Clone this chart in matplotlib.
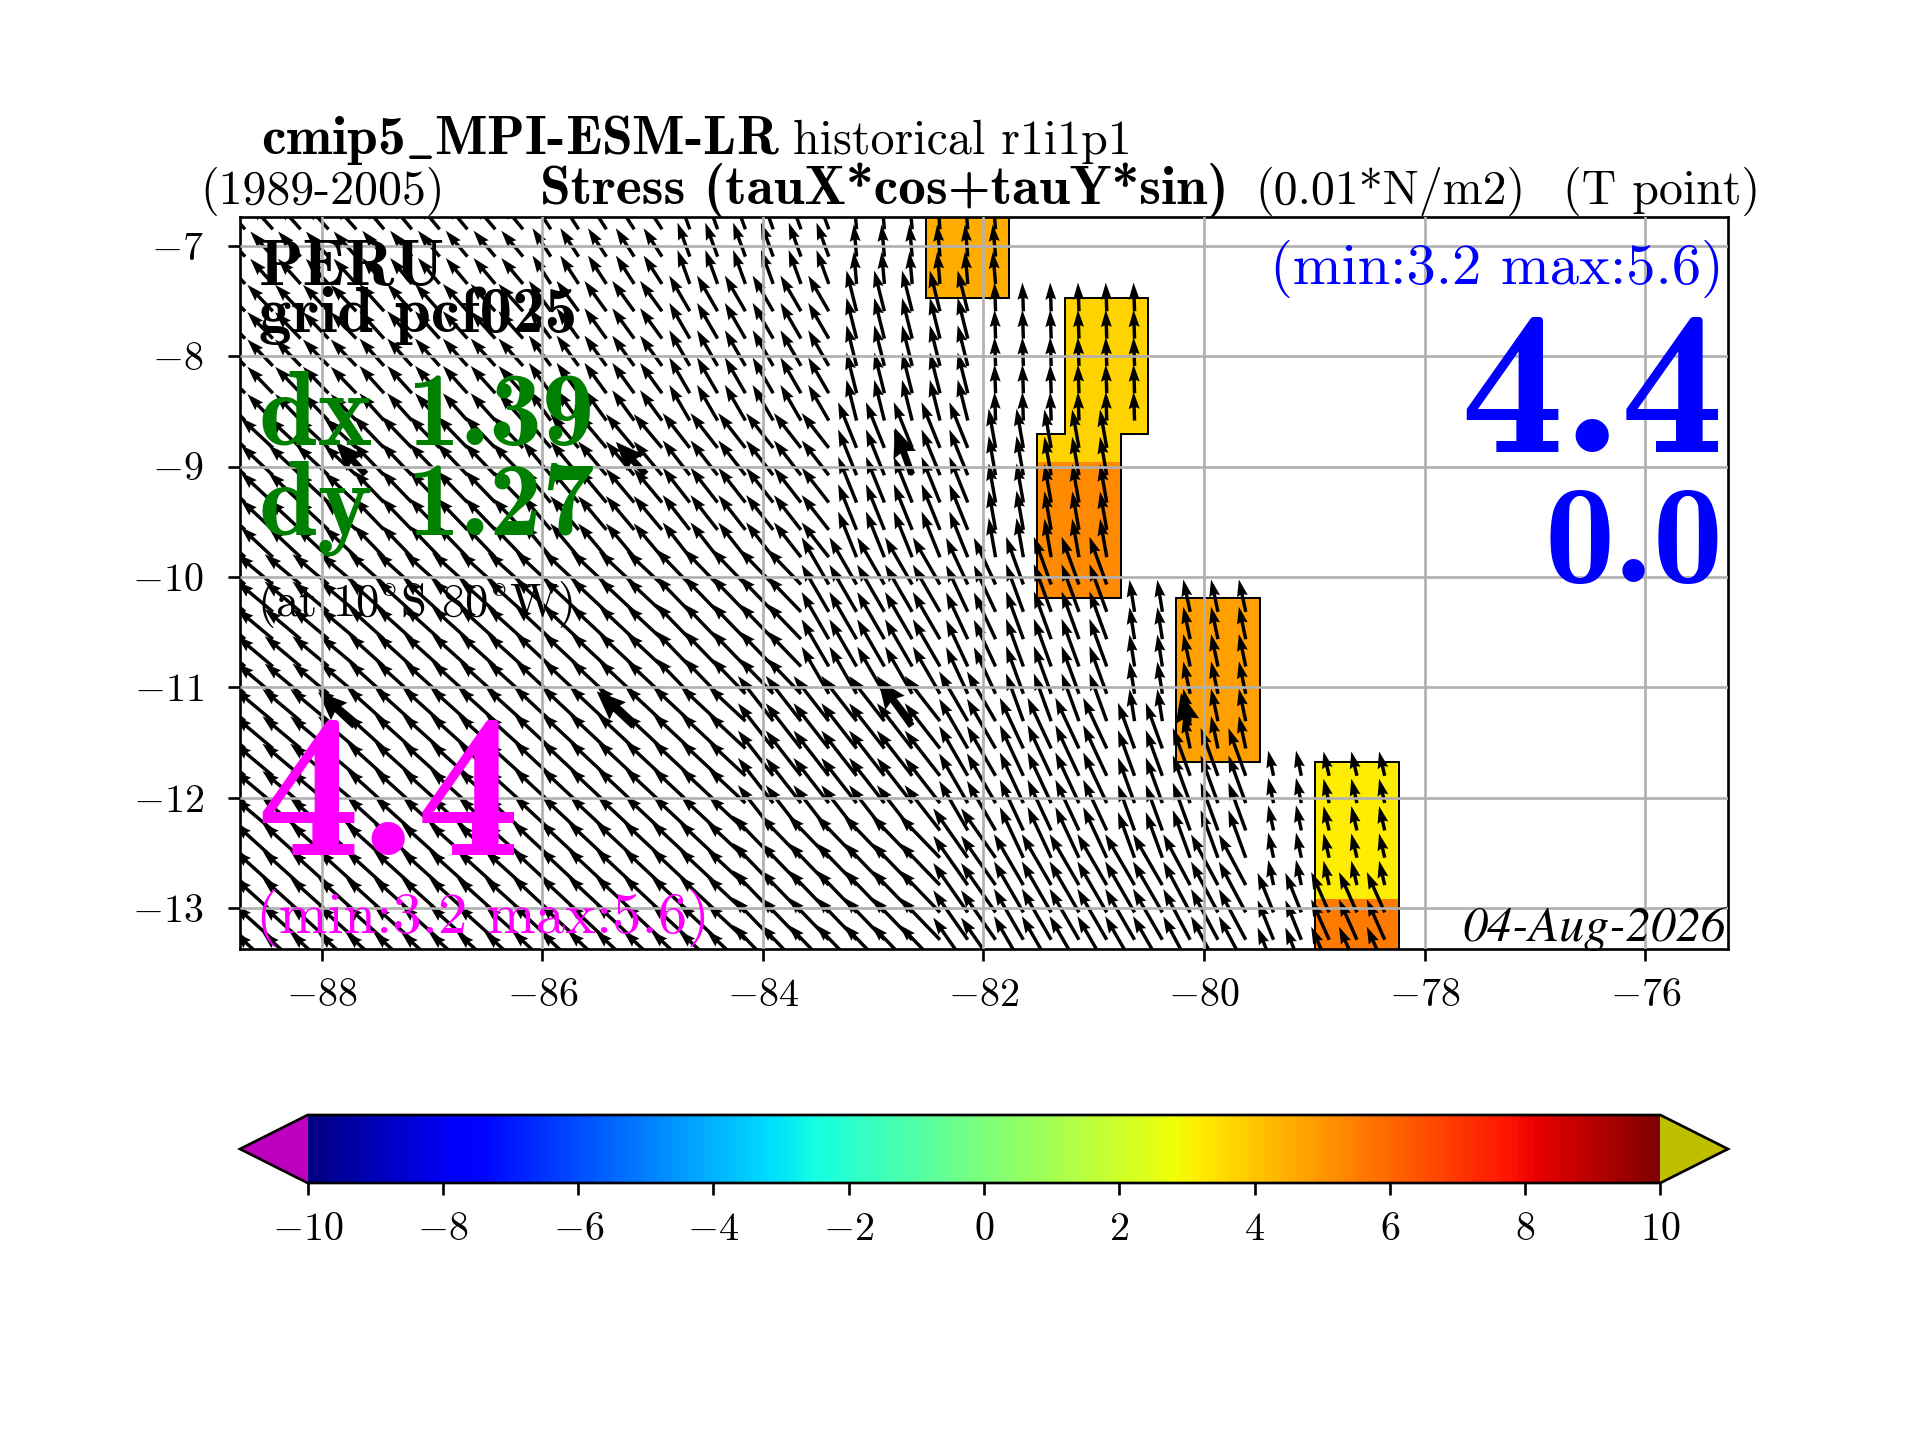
import numpy as np
import matplotlib
matplotlib.use("Agg")
import matplotlib.pyplot as plt
from matplotlib.collections import LineCollection
from matplotlib.cm import ScalarMappable
from matplotlib.colors import Normalize

plt.rcParams['font.family'] = ['cmr10', 'DejaVu Serif']
plt.rcParams['mathtext.fontset'] = 'cm'
plt.rcParams['axes.formatter.use_mathtext'] = True
plt.rcParams['font.size'] = 12

# model grid, index k along lon and j along lat
lon_first_edge = -82.52
lon_step = 0.252
lat_first_edge = -7.47
lat_step = -0.2475
k_range = (-25, 17)
j_range = (-3, 25)

# wind stress vectors, constant over each coarse model cell
vec_k0 = [-25, -20, -14, -9, -3,
          -25, -20, -14, -9, -3, 2,
          -25, -20, -14, -9, -3, 2, 4,
          -25, -20, -14, -9, -4, 1, 3, 7, 9,
          -25, -20, -14, -6, 1, 3, 7, 9, 12, 14,
          -25, -14, -6, 1, 3, 7, 9, 12, 14]
vec_k1 = [-20, -14, -9, -3, 3,
          -20, -14, -9, -3, 2, 8,
          -20, -14, -9, -3, 2, 4, 7,
          -20, -14, -9, -4, 1, 3, 7, 9, 12,
          -20, -14, -6, 1, 3, 7, 9, 12, 14, 17,
          -14, -6, 1, 3, 7, 9, 12, 14, 17]
vec_j0 = [-3, -3, -3, -3, -3,
          0, 0, 0, 0, 0, 0,
          5, 5, 5, 5, 5, 5, 5,
          10, 10, 10, 10, 10, 10, 10, 11, 11,
          15, 15, 15, 15, 15, 16, 16, 17, 17, 17,
          20, 20, 20, 20, 21, 21, 21, 22, 22]
vec_j1 = [0, 0, 0, 0, 0,
          5, 5, 5, 5, 5, 5,
          10, 10, 10, 10, 10, 10, 11,
          15, 15, 15, 15, 15, 15, 16, 16, 17,
          20, 20, 20, 20, 20, 21, 21, 21, 22, 22,
          25, 25, 25, 25, 25, 25, 25, 25, 25]
vec_angle = [42, 40, 33, 20, 5,
             44, 42, 36, 30, 14, 2,
             47, 44, 40, 38, 22, 10, 10,
             50, 48, 47, 44, 30, 25, 20, 9, 12,
             50, 48, 47, 38, 30, 25, 20, 20, 12, 13,
             48, 47, 44, 35, 30, 30, 28, 22, 24]
vec_stress = [4.6, 4.6, 4.6, 4.9, 4.4,
              5.0, 5.0, 5.1, 5.6, 5.7, 3.9,
              6.0, 6.0, 6.0, 6.0, 6.7, 5.4, 5.3,
              6.4, 6.5, 6.6, 6.7, 7.4, 7.0, 6.9, 4.4, 4.5,
              6.8, 6.8, 6.9, 7.8, 7.8, 7.6, 6.6, 6.9, 3.5, 3.4,
              7.0, 7.2, 8.0, 8.2, 8.0, 8.0, 7.8, 5.8, 6.0]

# the few heavier arrows
big_lon = [-87.6, -85.06, -82.65, -87.7, -85.17, -82.65, -80.14]
big_lat = [-9.07, -9.07, -9.07, -11.35, -11.35, -11.35, -11.35]
big_angle = [43, 43, 20, 47, 47, 36, 13]
big_stress = [6.0, 6.0, 6.7, 6.8, 6.9, 7.8, 4.6]

# coloured cells along the coast
shade_k0 = [0, 5, 4, 4, 9, 14, 14]
shade_k1 = [3, 8, 7, 7, 12, 17, 17]
shade_j0 = [-3, 0, 5, 6, 11, 17, 22]
shade_j1 = [0, 5, 6, 11, 17, 22, 25]
shade_value = [4.5, 3.7, 3.7, 5.3, 4.8, 3.2, 5.6]

x_ticks = [-88, -86, -84, -82, -80, -78, -76]
y_ticks = [-7, -8, -9, -10, -11, -12, -13]
cbar_ticks = [-10, -8, -6, -4, -2, 0, 2, 4, 6, 8, 10]


def fx(x):
    return x / 1920.0


def fy(y):
    return 1 - y / 1440.0


def label(x, y, s, **kw):
    fig.text(fx(x), fy(y), s, va='baseline', zorder=10, **kw)


k_all = np.arange(k_range[0], k_range[1])
j_all = np.arange(j_range[0], j_range[1])
lon_edges = lon_first_edge + lon_step * np.arange(k_range[0], k_range[1] + 1)
lat_edges = lat_first_edge + lat_step * np.arange(j_range[0], j_range[1] + 1)
lon_c = 0.5 * (lon_edges[:-1] + lon_edges[1:])
lat_c = 0.5 * (lat_edges[:-1] + lat_edges[1:])

angle = np.full((len(j_all), len(k_all)), np.nan)
stress = np.full((len(j_all), len(k_all)), np.nan)
for i in range(len(vec_angle)):
    sel_j = slice(vec_j0[i] - j_range[0], vec_j1[i] - j_range[0])
    sel_k = slice(vec_k0[i] - k_range[0], vec_k1[i] - k_range[0])
    angle[sel_j, sel_k] = vec_angle[i]
    stress[sel_j, sel_k] = vec_stress[i]

shade = np.full((len(j_all), len(k_all)), np.nan)
for i in range(len(shade_value)):
    shade[shade_j0[i] - j_range[0]:shade_j1[i] - j_range[0],
          shade_k0[i] - k_range[0]:shade_k1[i] - k_range[0]] = shade_value[i]

u = -stress * np.sin(np.deg2rad(angle))
v = stress * np.cos(np.deg2rad(angle))
lon2d, lat2d = np.meshgrid(lon_c, lat_c)
ok = ~np.isnan(u)

fig = plt.figure(figsize=(8, 6), dpi=240)
ax = fig.add_axes([fx(240), fy(949), fx(1728) - fx(240), fy(217) - fy(949)])

cmap = plt.get_cmap('jet').copy()
cmap.set_under((0.75, 0, 0.75))
cmap.set_over((0.75, 0.75, 0))
norm = Normalize(-10, 10)

ax.pcolormesh(lon_edges, lat_edges, np.ma.masked_invalid(shade), cmap=cmap, norm=norm, zorder=1)

# coast outline around the coloured cells
has = np.pad(~np.isnan(shade), 1)
segs = []
for jj in range(shade.shape[0]):
    for kk in range(shade.shape[1]):
        if not has[jj + 1, kk + 1]:
            continue
        if not has[jj, kk + 1]:
            segs.append([(lon_edges[kk], lat_edges[jj]), (lon_edges[kk + 1], lat_edges[jj])])
        if not has[jj + 2, kk + 1]:
            segs.append([(lon_edges[kk], lat_edges[jj + 1]), (lon_edges[kk + 1], lat_edges[jj + 1])])
        if not has[jj + 1, kk]:
            segs.append([(lon_edges[kk], lat_edges[jj]), (lon_edges[kk], lat_edges[jj + 1])])
        if not has[jj + 1, kk + 2]:
            segs.append([(lon_edges[kk + 1], lat_edges[jj]), (lon_edges[kk + 1], lat_edges[jj + 1])])
ax.add_collection(LineCollection(segs, colors='k', linewidths=0.6, zorder=1.5, capstyle='round'))

ax.quiver(lon2d[ok], lat2d[ok], u[ok], v[ok], angles='xy', scale_units='xy', scale=15.0,
          width=0.0023, headwidth=3.2, headlength=5, headaxislength=4.5, color='k', zorder=2)
big_u = -np.array(big_stress) * np.sin(np.deg2rad(big_angle))
big_v = np.array(big_stress) * np.cos(np.deg2rad(big_angle))
ax.quiver(big_lon, big_lat, big_u, big_v, angles='xy', scale_units='xy', scale=15.0,
          width=0.0046, headwidth=3.5, headlength=4.2, headaxislength=3.8, color='k', zorder=2)

ax.set_xlim(-88.74, -75.25)
ax.set_ylim(-13.37, -6.74)
ax.set_xticks(x_ticks)
ax.set_yticks(y_ticks)
ax.tick_params(axis='x', pad=5.3)
ax.tick_params(axis='y', pad=7.4)
ax.grid(True, color='#b0b0b0', linewidth=0.8, zorder=3)
ax.set_axisbelow(False)

# colorbar, its axes includes the two end triangles
cax = fig.add_axes([fx(240), fy(1183), fx(1728) - fx(240), fy(1115) - fy(1183)])
sm = ScalarMappable(norm=norm, cmap=cmap)
cbar = fig.colorbar(sm, cax=cax, orientation='horizontal', extend='both', ticks=cbar_ticks)
cax.tick_params(pad=5.3)

# titles
bold = 'cmb10'
label(261, 154, r'cmip5$\_$MPI-ESM-LR', fontsize=16.6, family=bold)
label(793, 154, 'historical r1i1p1', fontsize=14.4)
label(200, 204, '(1989-2005)', fontsize=14.4)
label(540, 204, 'Stress (tauX*cos+tauY*sin)', fontsize=16.6, family=bold)
label(1255, 204, '(0.01*N/m2)', fontsize=14.4)
label(1760, 204, '(T point)', fontsize=14.4, ha='right')

# text inside the map
label(259, 285, 'PERU', fontsize=19.5, family=bold)
label(259, 332, 'grid pcf025', fontsize=19.5, family=bold)
label(259, 445, 'dx 1.39', fontsize=31.5, family=bold, color='green')
label(259, 534, 'dy 1.27', fontsize=31.5, family=bold, color='green')
label(257, 616, r'(at 10$^{\circ}$S 80$^{\circ}$W)', fontsize=14)
label(256, 855, '4.4', fontsize=62, family=bold, color='magenta')
label(256, 933, '(min:3.2 max:5.6)', fontsize=17.6, color='magenta')
label(1724, 284, '(min:3.2 max:5.6)', fontsize=17.6, color='blue', ha='right')
label(1724, 452, '4.4', fontsize=62, family=bold, color='blue', ha='right')
label(1724, 582, '0.0', fontsize=42, family=bold, color='blue', ha='right')
label(1726, 941, '04-Aug-2026', fontsize=15, family='STIXGeneral', style='italic', ha='right')

fig.savefig('out.png', dpi=240)
